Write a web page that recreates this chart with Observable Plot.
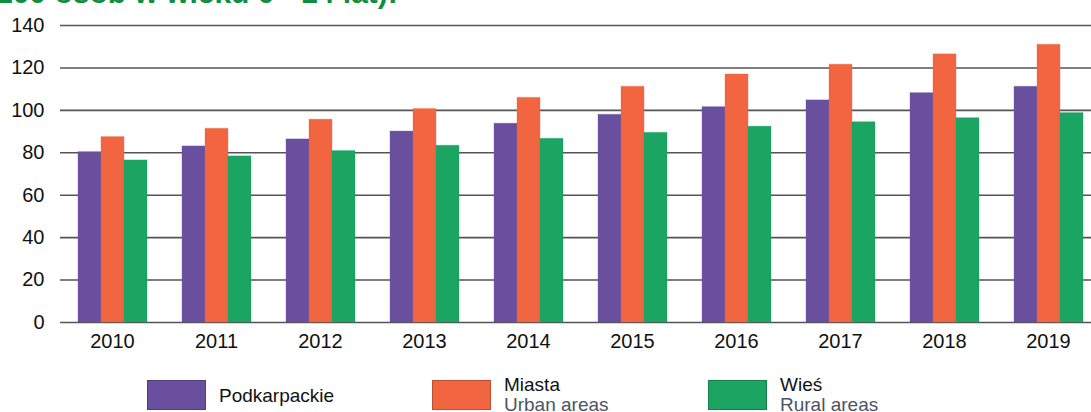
<!DOCTYPE html>
<html>
<head>
<meta charset="utf-8">
<script src="https://cdn.jsdelivr.net/npm/d3@7"></script>
<script src="https://cdn.jsdelivr.net/npm/@observablehq/plot@0.6"></script>
<style>
  html, body { margin: 0; padding: 0; background: #fff; overflow: hidden; width: 1091px; height: 412px; }
  #wrap { position: relative; width: 1091px; height: 412px; font-family: "Liberation Sans", Arial, sans-serif; }
  #title { position: absolute; left: -4px; top: -24px; font-size: 30px; font-weight: bold; color: #0e8f3e; white-space: nowrap; }
  #chart { position: absolute; left: 0; top: 0; }
  .lg { position: absolute; top: 380px; height: 31px; }
  .sw { position: absolute; top: 0; width: 59px; height: 30px; box-sizing: border-box; border: 1px solid rgba(0,0,0,0.22); }
  .lt { position: absolute; white-space: nowrap; font-size: 19px; color: #111; line-height: 20px; }
  .lt .en { color: #4a5566; }
</style>
</head>
<body>
<div id="wrap">
  <div id="title"></div>
  <div id="chart"></div>
  <div id="legend"></div>
</div>
<script>
const titleText = "100 osób w wieku 0 - 14 lat):";
const years = ["2010","2011","2012","2013","2014","2015","2016","2017","2018","2019"];
const seriesNames = ["Podkarpackie", "Miasta", "Wieś"];
const seriesEnglish = ["", "Urban areas", "Rural areas"];
const seriesColors = ["#6a4f9e", "#f16541", "#1ba462"];
const podkarpackie = [80.3, 83.0, 86.3, 90.0, 93.7, 97.9, 101.5, 104.7, 108.1, 111.1];
const miasta       = [87.4, 91.3, 95.6, 100.6, 105.9, 111.1, 116.9, 121.5, 126.4, 130.9];
const wies         = [76.4, 78.3, 80.8, 83.3, 86.6, 89.4, 92.3, 94.4, 96.3, 98.7];
const yTicks = [0, 20, 40, 60, 80, 100, 120, 140];

const seriesValues = [podkarpackie, miasta, wies];
const rows = [];
years.forEach((yr, i) => {
  seriesNames.forEach((s, j) => rows.push({year: yr, series: s, value: seriesValues[j][i]}));
});

document.getElementById("title").textContent = titleText;

const chart = Plot.plot({
  width: 1091,
  height: 362,
  marginLeft: 60,
  marginRight: -9,
  marginTop: 25,
  marginBottom: 40,
  style: {fontFamily: "Liberation Sans, Arial, sans-serif", fontSize: "20px", color: "#111", background: "transparent", overflow: "visible"},
  facet: {data: rows, x: "year", label: null},
  fx: {domain: years, padding: 0, axis: "bottom", tickSize: 0, tickPadding: 11, label: null},
  x: {domain: seriesNames, paddingInner: 0, paddingOuter: 0.76, axis: null},
  y: {domain: [0, 140], ticks: yTicks, tickSize: 0, tickPadding: 16, label: null},
  color: {domain: seriesNames, range: seriesColors},
  marks: [
    Plot.ruleY(yTicks, {stroke: "#555", strokeWidth: 1.6}),
    Plot.barY(rows, {x: "series", y: "value", fill: "series", stroke: "series", strokeOpacity: 0.35, strokeWidth: 1})
  ]
});
document.getElementById("chart").appendChild(chart);

const legendPos = [147, 432, 708];
const legend = document.getElementById("legend");
seriesNames.forEach((s, j) => {
  const g = document.createElement("div");
  g.className = "lg";
  g.style.left = legendPos[j] + "px";
  const sw = document.createElement("div");
  sw.className = "sw";
  sw.style.background = seriesColors[j];
  g.appendChild(sw);
  const t = document.createElement("div");
  t.className = "lt";
  t.style.left = "72px";
  if (seriesEnglish[j]) {
    t.style.top = "-5px";
    const a = document.createElement("div"); a.textContent = s;
    const b = document.createElement("div"); b.className = "en"; b.textContent = seriesEnglish[j];
    t.appendChild(a); t.appendChild(b);
  } else {
    t.style.top = "6px";
    t.textContent = s;
  }
  g.appendChild(t);
  legend.appendChild(g);
});
</script>
</body>
</html>
